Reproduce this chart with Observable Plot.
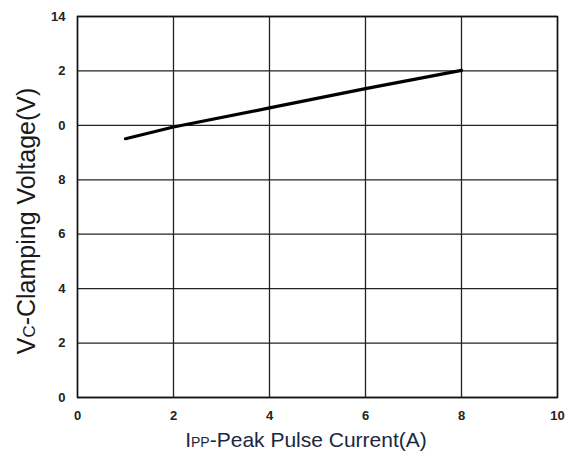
<!DOCTYPE html>
<html>
<head>
<meta charset="utf-8">
<script src="https://cdn.jsdelivr.net/npm/d3@7"></script>
<script src="https://cdn.jsdelivr.net/npm/@observablehq/plot@0.6"></script>
<style>
  html, body { margin: 0; padding: 0; background: #fff; }
  #chart svg { display: block; }
</style>
</head>
<body>
<div id="chart"></div>
<script>
// Data
const current = [1, 2, 4, 6, 8];                 // Ipp (A)
const voltage = [9.51, 9.94, 10.64, 11.35, 12.02]; // Vc (V)
const xTicks = [0, 2, 4, 6, 8, 10];
const yTicks = [0, 2, 4, 6, 8, 10, 12, 14];
const yTickLabels = ["0", "2", "4", "6", "8", "0", "2", "14"];
const xTitle = ["I", "PP", "-Peak Pulse Current(A)"];
const yTitle = ["V", "C", "-Clamping Voltage(V)"];

const data = current.map((c, i) => ({x: c, y: voltage[i]}));

const W = 571, H = 461;
const mL = 77, mR = 14, mT = 16, mB = 64;

const plot = Plot.plot({
  width: W,
  height: H,
  marginLeft: mL,
  marginRight: mR,
  marginTop: mT,
  marginBottom: mB,
  style: {fontFamily: "Arial, 'Liberation Sans', sans-serif", background: "#fff"},
  x: {domain: [0, 10], ticks: xTicks, label: null},
  y: {domain: [0, 14], ticks: yTicks, label: null},
  marks: [
    Plot.gridX(xTicks, {stroke: "#222", strokeOpacity: 1, strokeWidth: 1.3}),
    Plot.gridY(yTicks, {stroke: "#222", strokeOpacity: 1, strokeWidth: 1.3}),
    Plot.frame({stroke: "#111", strokeWidth: 1.5}),
    Plot.axisX(xTicks, {tickSize: 0, tickPadding: 13, fontWeight: "bold", fontSize: 13, fill: "#222", label: null}),
    Plot.axisY(yTicks, {tickSize: 0, tickPadding: 12, fontWeight: "bold", fontSize: 13, fill: "#222", label: null,
      tickFormat: (d) => yTickLabels[yTicks.indexOf(d)]}),
    Plot.line(data, {x: "x", y: "y", stroke: "#000", strokeWidth: 3.2})
  ]
});

document.getElementById("chart").appendChild(plot);

const svg = d3.select(plot);
// X axis title
const xt = svg.append("text")
  .attr("x", 306)
  .attr("y", 447)
  .attr("text-anchor", "middle")
  .attr("fill", "#1c2741")
  .style("font-family", "Arial, 'Liberation Sans', sans-serif")
  .style("font-size", "21px");
xt.append("tspan").text(xTitle[0]);
xt.append("tspan").style("font-size", "14px").text(xTitle[1]);
xt.append("tspan").text(xTitle[2]);

// Y axis title
const yt = svg.append("text")
  .attr("transform", `translate(35, 221) rotate(-90)`)
  .attr("text-anchor", "middle")
  .attr("fill", "#1a1a1a")
  .style("font-family", "Arial, 'Liberation Sans', sans-serif")
  .style("font-size", "25px");
yt.append("tspan").text(yTitle[0]);
yt.append("tspan").style("font-size", "17px").text(yTitle[1]);
yt.append("tspan").text(yTitle[2]);
</script>
</body>
</html>
